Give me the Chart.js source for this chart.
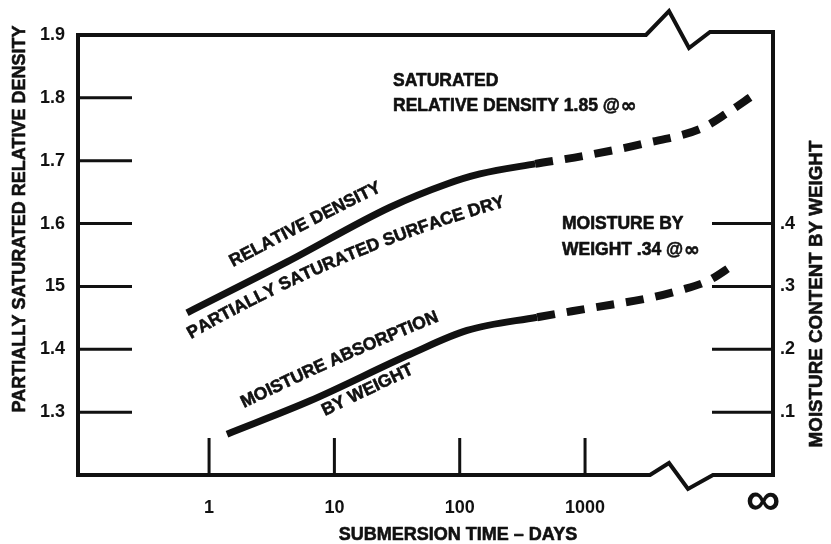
<!DOCTYPE html>
<html>
<head>
<meta charset="utf-8">
<script src="https://cdn.jsdelivr.net/npm/chart.js@4.4.1/dist/chart.umd.min.js"></script>
<style>
  html, body { margin: 0; padding: 0; background: #fff; }
  #wrap { width: 831px; height: 544px; }
</style>
</head>
<body>
<div id="wrap"><canvas id="chart"></canvas></div>
<script>
// relative density, partially saturated surface dry (left axis)
const densityDays = [0.667, 4.19, 27.8, 79, 145, 400, 1000, 2900, 8600, 14100, 21600];
const densityValues = [1.458, 1.539, 1.626, 1.663, 1.679, 1.695, 1.708, 1.727, 1.752, 1.778, 1.803];
// moisture absorption by weight (right axis)
const moistureDays = [1.39, 6.4, 40.2, 114.6, 415, 1140, 3310, 5740, 9600, 15200];
const moistureValues = [0.065, 0.118, 0.192, 0.230, 0.251, 0.266, 0.282, 0.294, 0.309, 0.334];
// index of the last measured point, after it the curves are dashed
const densitySolidEnd = 5;
const moistureSolidEnd = 4;

const xTickValues = [1, 10, 100, 1000, 26400];
const xTickLabels = ['1', '10', '100', '1000', '\u221e'];
const densityTicks = [1.3, 1.4, 1.5, 1.6, 1.7, 1.8, 1.9];
const densityTickLabels = ['1.3', '1.4', '15', '1.6', '1.7', '1.8', '1.9'];
const moistureTicks = [0.1, 0.2, 0.3, 0.4];
const moistureTickLabels = ['.1', '.2', '.3', '.4'];

const FONT = "'Liberation Sans', Arial, sans-serif";
const INK = '#111';

function toPoints(xs, ys) {
  return xs.map((x, i) => ({ x: x, y: ys[i] }));
}

// heavier text, the scan is printed quite bold
function boldText(ctx, text, x, y) {
  ctx.fillText(text, x, y);
  ctx.strokeText(text, x, y);
}

// note ending in "@∞", the infinity sign is drawn larger
function noteInf(ctx, text, x, y) {
  boldText(ctx, text, x, y);
  const w = ctx.measureText(text).width;
  const f = ctx.font;
  ctx.font = "bold 19px 'DejaVu Sans', sans-serif";
  boldText(ctx, '\u221e', x + w + 1, y + 1);
  ctx.font = f;
}

// text that bends a little along the curve it labels
function curvedText(ctx, text, x, y, a0, a1) {
  const total = ctx.measureText(text).width;
  let done = 0;
  for (const ch of text) {
    const w = ctx.measureText(ch).width;
    const ang = (a0 + (a1 - a0) * (done + w / 2) / total) * Math.PI / 180;
    ctx.save();
    ctx.translate(x, y);
    ctx.rotate(ang);
    boldText(ctx, ch, 0, 0);
    ctx.restore();
    x += Math.cos(ang) * w;
    y += Math.sin(ang) * w;
    done += w;
  }
}

const framePlugin = {
  id: 'frame',
  afterDraw(chart) {
    const ctx = chart.ctx;
    const a = chart.chartArea;
    const xs = chart.scales.x, yl = chart.scales.y, yr = chart.scales.y2;
    ctx.save();
    ctx.strokeStyle = INK;
    ctx.fillStyle = INK;
    ctx.lineJoin = 'miter';
    ctx.lineCap = 'butt';

    // box with the axis breaks before infinity
    ctx.lineWidth = 4;
    ctx.beginPath();
    ctx.moveTo(a.left, a.bottom);
    ctx.lineTo(a.left, a.top);
    ctx.lineTo(a.right - 127, a.top);
    ctx.lineTo(a.right - 104, a.top - 24);
    ctx.lineTo(a.right - 84, a.top + 13);
    ctx.lineTo(a.right - 63, a.top - 3);
    ctx.lineTo(a.right, a.top - 3);
    ctx.lineTo(a.right, a.bottom);
    ctx.lineTo(a.right - 60, a.bottom);
    ctx.lineTo(a.right - 85, a.bottom + 14);
    ctx.lineTo(a.right - 104, a.bottom - 12);
    ctx.lineTo(a.right - 123, a.bottom);
    ctx.closePath();
    ctx.stroke();

    // inward tick marks
    ctx.lineWidth = 3;
    ctx.beginPath();
    densityTicks.slice(0, -1).forEach(v => {
      const py = yl.getPixelForValue(v);
      ctx.moveTo(a.left, py);
      ctx.lineTo(a.left + 54, py);
    });
    moistureTicks.forEach(v => {
      const py = yr.getPixelForValue(v);
      ctx.moveTo(a.right - 61, py);
      ctx.lineTo(a.right, py);
    });
    xTickValues.slice(0, -1).forEach(v => {
      const px = xs.getPixelForValue(v);
      ctx.moveTo(px, a.bottom);
      ctx.lineTo(px, a.bottom - 37);
    });
    ctx.stroke();

    ctx.lineWidth = 0.6;
    ctx.lineJoin = 'round';

    // axis titles
    ctx.font = 'bold 18px ' + FONT;
    ctx.textAlign = 'center';
    ctx.textBaseline = 'middle';
    ctx.save();
    ctx.translate(20, 219);
    ctx.rotate(-Math.PI / 2);
    boldText(ctx, 'PARTIALLY SATURATED RELATIVE DENSITY', 0, 0);
    ctx.restore();
    ctx.save();
    ctx.font = 'bold 18.8px ' + FONT;
    ctx.translate(817, 294);
    ctx.rotate(-Math.PI / 2);
    boldText(ctx, 'MOISTURE CONTENT BY WEIGHT', 0, 0);
    ctx.restore();
    boldText(ctx, 'SUBMERSION TIME \u2013 DAYS', 458, 535);

    // notes
    ctx.font = 'bold 17.5px ' + FONT;
    ctx.textAlign = 'left';
    boldText(ctx, 'SATURATED', 393, 81);
    noteInf(ctx, 'RELATIVE DENSITY 1.85 @', 393, 106);
    boldText(ctx, 'MOISTURE BY', 562, 224);
    noteInf(ctx, 'WEIGHT .34 @', 562, 250);

    ctx.textBaseline = 'alphabetic';
    curvedText(ctx, 'RELATIVE DENSITY', 233, 267, -28, -26);
    curvedText(ctx, 'PARTIALLY SATURATED SURFACE DRY', 191, 339, -30, -16);
    curvedText(ctx, 'MOISTURE ABSORPTION', 244, 408, -26, -22);
    curvedText(ctx, 'BY WEIGHT', 325, 416, -26, -25);
    ctx.restore();
  }
};

const tickFont = { family: FONT, size: 18, weight: 'bold' };

new Chart(document.getElementById('chart'), {
  type: 'line',
  data: {
    datasets: [
      {
        label: 'Relative density',
        data: toPoints(densityDays, densityValues),
        yAxisID: 'y',
        borderColor: INK,
        borderWidth: 7,
        borderCapStyle: 'butt',
        pointRadius: 0,
        cubicInterpolationMode: 'monotone',
        segment: {
          borderDash: c => c.p0DataIndex >= densitySolidEnd ? [18, 12] : undefined,
          borderWidth: c => c.p0DataIndex >= densitySolidEnd ? 8 : 7
        }
      },
      {
        label: 'Moisture by weight',
        data: toPoints(moistureDays, moistureValues),
        yAxisID: 'y2',
        borderColor: INK,
        borderWidth: 7,
        borderCapStyle: 'butt',
        pointRadius: 0,
        cubicInterpolationMode: 'monotone',
        segment: {
          borderDash: c => c.p0DataIndex >= moistureSolidEnd ? [18, 12] : undefined,
          borderWidth: c => c.p0DataIndex >= moistureSolidEnd ? 8 : 7
        }
      }
    ]
  },
  options: {
    responsive: true,
    maintainAspectRatio: false,
    animation: false,
    layout: { padding: { top: 35, left: 0, right: 0, bottom: 0 } },
    plugins: {
      legend: { display: false },
      tooltip: { enabled: false }
    },
    scales: {
      x: {
        type: 'logarithmic',
        min: 0.09,
        max: 31600,
        grid: { display: false, drawTicks: false },
        border: { display: false },
        afterBuildTicks: s => { s.ticks = xTickValues.map(v => ({ value: v })); },
        afterFit: s => { s.height = 69; },
        ticks: {
          autoSkip: false,
          maxRotation: 0,
          padding: 22,
          color: INK,
          font: c => c.index === 4
            ? { family: FONT, size: 48, weight: 'bold', lineHeight: 0.19 }
            : tickFont,
          callback: (v, i) => xTickLabels[i]
        }
      },
      y: {
        position: 'left',
        min: 1.2,
        max: 1.9,
        grid: { display: false, drawTicks: false },
        border: { display: false },
        afterBuildTicks: s => { s.ticks = densityTicks.map(v => ({ value: v })); },
        afterFit: s => { s.width = 78; },
        ticks: {
          padding: 13,
          color: INK,
          font: tickFont,
          callback: (v, i) => densityTickLabels[i]
        }
      },
      y2: {
        position: 'right',
        min: 0,
        max: 0.7,
        grid: { display: false, drawTicks: false },
        border: { display: false },
        afterBuildTicks: s => { s.ticks = moistureTicks.map(v => ({ value: v })); },
        afterFit: s => { s.width = 58; },
        ticks: {
          padding: 7,
          color: INK,
          font: tickFont,
          callback: (v, i) => moistureTickLabels[i]
        }
      }
    }
  },
  plugins: [framePlugin]
});
</script>
</body>
</html>
